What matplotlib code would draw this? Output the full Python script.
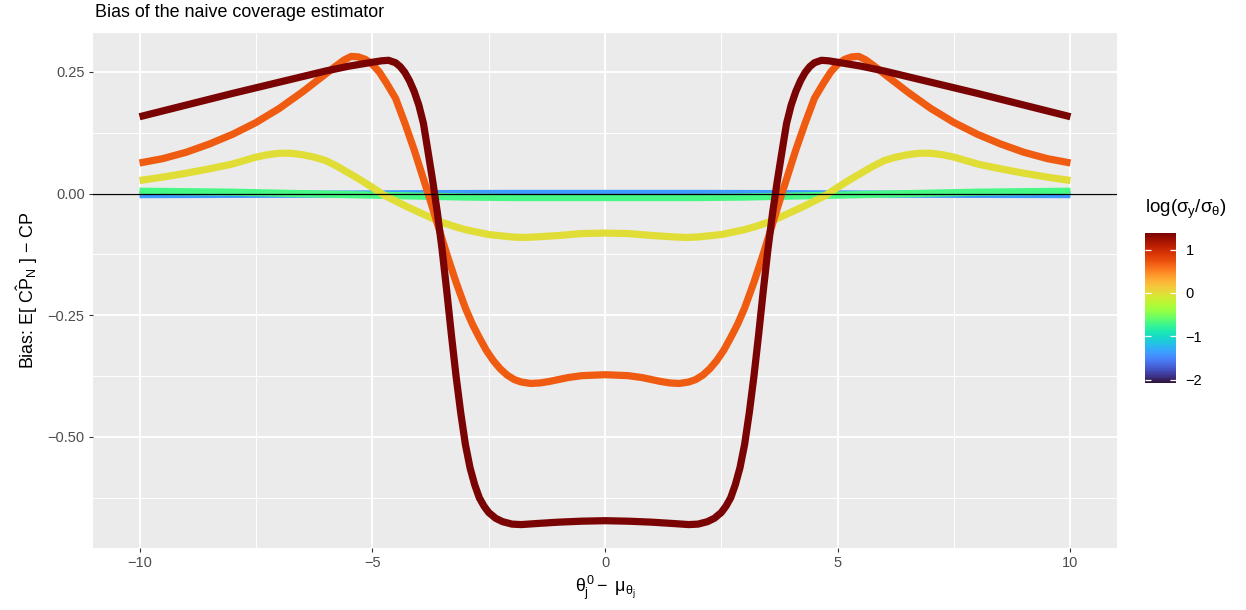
import numpy as np
import matplotlib
matplotlib.use("Agg")
import matplotlib.pyplot as plt
from matplotlib import colors, cm

plt.rcParams['font.family'] = ['Liberation Sans', 'DejaVu Sans']
plt.rcParams['mathtext.fontset'] = 'custom'
plt.rcParams['mathtext.rm'] = 'Liberation Sans'
plt.rcParams['mathtext.it'] = 'Liberation Sans'
plt.rcParams['mathtext.bf'] = 'Liberation Sans:bold'

#~~~~~~~~~~~~~~~~~~~~ DATA ~~~~~~~~~~~~~~~~~~~~
# log(sigma_y / sigma_theta) for each curve
log_ratio = [np.log(1/4), np.log(1/2), np.log(1), np.log(2), np.log(4)]
cbar_min, cbar_max = np.log(1/8), np.log(4)

x_blue = [-10, -8, -6, -4, -2, 0, 2, 4, 6, 8, 10]
y_blue = [-0.002, -0.0015, -0.001, 0.0, 0.0005, 0.0005, 0.0005, 0.0, -0.001, -0.0015, -0.002]

x_green = [-10, -9, -8, -7, -6, -5, -4, -3, -2, -1, 0, 1, 2, 3, 4, 5, 6, 7, 8, 9, 10]
y_green = [0.005, 0.004, 0.003, 0.001, -0.001, -0.003, -0.005, -0.007, -0.008, -0.008, -0.008,
           -0.008, -0.008, -0.007, -0.005, -0.003, -0.001, 0.001, 0.003, 0.004, 0.005]

x_yellow = [-10, -9.5, -9, -8.5, -8, -7.75, -7.5, -7.25, -7, -6.75, -6.5, -6.25, -6, -5.75, -5.5, -5.25,
            -5, -4.75, -4.5, -4.25, -4, -3.75, -3.5, -3.25, -3, -2.5, -2, -1.75, -1.5, -1, -0.5, 0,
            0.5, 1, 1.5, 1.75, 2, 2.5, 3, 3.25, 3.5, 3.75, 4, 4.25, 4.5, 4.75, 5,
            5.25, 5.5, 5.75, 6, 6.25, 6.5, 6.75, 7, 7.25, 7.5, 7.75, 8, 8.5, 9, 9.5, 10]
y_yellow = [0.027, 0.034, 0.042, 0.051, 0.061, 0.068, 0.075, 0.080, 0.083, 0.083, 0.080, 0.075, 0.068,
            0.056, 0.042, 0.028, 0.013, -0.003, -0.015, -0.027, -0.038, -0.049, -0.059, -0.067, -0.074,
            -0.084, -0.089, -0.090, -0.089, -0.086, -0.082, -0.081,
            -0.082, -0.086, -0.089, -0.090, -0.089, -0.084, -0.074, -0.067, -0.059, -0.049, -0.038,
            -0.027, -0.015, -0.003, 0.013, 0.028, 0.042, 0.056, 0.068, 0.075, 0.080, 0.083, 0.083,
            0.080, 0.075, 0.068, 0.061, 0.051, 0.042, 0.034, 0.027]

x_orange = [-10, -9.5, -9, -8.5, -8, -7.5, -7, -6.5, -6, -5.8, -5.6, -5.45, -5.3, -5.15, -5.0, -4.85,
            -4.7, -4.5, -4.3, -4.1, -3.95, -3.8, -3.6, -3.4, -3.2, -3.0, -2.85, -2.7, -2.55, -2.4,
            -2.25, -2.1, -1.95, -1.8, -1.6, -1.4, -1.2, -1.0, -0.8, -0.5, 0,
            0.5, 0.8, 1.0, 1.2, 1.4, 1.6, 1.8, 1.95, 2.1, 2.25, 2.4, 2.55, 2.7, 2.85, 3.0, 3.2, 3.4,
            3.6, 3.8, 3.95, 4.1, 4.3, 4.5, 4.7, 4.85, 5.0, 5.15, 5.3, 5.45, 5.6, 5.8, 6, 6.5, 7,
            7.5, 8, 8.5, 9, 9.5, 10]
y_orange = [0.063, 0.072, 0.085, 0.102, 0.122, 0.146, 0.175, 0.209, 0.246, 0.261, 0.275, 0.282, 0.281,
            0.276, 0.266, 0.250, 0.228, 0.196, 0.145, 0.090, 0.045, 0.0, -0.062, -0.124, -0.182,
            -0.235, -0.268, -0.296, -0.322, -0.343, -0.360, -0.373, -0.382, -0.387, -0.390, -0.389,
            -0.386, -0.382, -0.378, -0.374, -0.372,
            -0.374, -0.378, -0.382, -0.386, -0.389, -0.390, -0.387, -0.382, -0.373, -0.360, -0.343,
            -0.322, -0.296, -0.268, -0.235, -0.182, -0.124, -0.062, 0.0, 0.045, 0.090, 0.145, 0.196,
            0.228, 0.250, 0.266, 0.276, 0.281, 0.282, 0.275, 0.261, 0.246, 0.209, 0.175, 0.146,
            0.122, 0.102, 0.085, 0.072, 0.063]

x_red = [-10, -9, -8, -7, -6, -5.5, -5, -4.8, -4.65, -4.5, -4.4, -4.3, -4.2, -4.1, -4.0, -3.9, -3.8,
         -3.7, -3.6, -3.5, -3.4, -3.3, -3.2, -3.1, -3.0, -2.9, -2.8, -2.7, -2.6, -2.5, -2.35, -2.2,
         -2.0, -1.8, -1.5, -1.0, -0.5, 0,
         0.5, 1.0, 1.5, 1.8, 2.0, 2.2, 2.35, 2.5, 2.6, 2.7, 2.8, 2.9, 3.0, 3.1, 3.2, 3.3, 3.4, 3.5,
         3.6, 3.7, 3.8, 3.9, 4.0, 4.1, 4.2, 4.3, 4.4, 4.5, 4.65, 4.8, 5, 5.5, 6, 7, 8, 9, 10]
y_red = [0.158, 0.182, 0.206, 0.229, 0.252, 0.262, 0.270, 0.273, 0.274, 0.269, 0.261, 0.249, 0.232,
         0.210, 0.182, 0.144, 0.085, 0.025, -0.040, -0.115, -0.200, -0.290, -0.375, -0.450, -0.515,
         -0.563, -0.598, -0.625, -0.642, -0.655, -0.667, -0.674, -0.679, -0.680, -0.678, -0.675,
         -0.673, -0.672,
         -0.673, -0.675, -0.678, -0.680, -0.679, -0.674, -0.667, -0.655, -0.642, -0.625, -0.598,
         -0.563, -0.515, -0.450, -0.375, -0.290, -0.200, -0.115, -0.040, 0.025, 0.085, 0.144,
         0.182, 0.210, 0.232, 0.249, 0.261, 0.269, 0.274, 0.273, 0.270, 0.262, 0.252, 0.229,
         0.206, 0.182, 0.158]

curves = [(x_blue, y_blue), (x_green, y_green), (x_yellow, y_yellow), (x_orange, y_orange), (x_red, y_red)]

xticks = [-10, -5, 0, 5, 10]
xticklabels = ['\u221210', '\u22125', '0', '5', '10']
yticks = [-0.5, -0.25, 0.0, 0.25]
yticklabels = ['\u22120.50', '\u22120.25', '0.00', '0.25']
cbar_ticks = [-2, -1, 0, 1]
cbar_ticklabels = ['\u22122', '\u22121', '0', '1']

#~~~~~~~~~~~~~~~~~~~~ FIGURE ~~~~~~~~~~~~~~~~~~~~
W, H = 1246, 610
fig = plt.figure(figsize=(W / 100, H / 100), dpi=100)

def px_axes(left, top, right, bottom):
    return fig.add_axes([left / W, 1 - bottom / H, (right - left) / W, (bottom - top) / H])

ax = px_axes(93, 33, 1117, 548)
ax.set_facecolor('#EBEBEB')
for s in ax.spines.values():
    s.set_visible(False)

norm = colors.Normalize(vmin=cbar_min, vmax=cbar_max)
cmap = plt.get_cmap('turbo')

for (xs, ys), lr in zip(curves, log_ratio):
    ax.plot(xs, ys, color=cmap(norm(lr)), lw=5.2, solid_capstyle='butt',
            solid_joinstyle='round', zorder=3)

ax.axhline(0, color='black', lw=0.9, zorder=4)
ax.margins(x=0.05, y=0.05)

ax.set_xticks(xticks, labels=xticklabels)
ax.set_yticks(yticks, labels=yticklabels)
ax.set_xticks([-7.5, -2.5, 2.5, 7.5], minor=True)
ax.set_yticks([-0.625, -0.375, -0.125, 0.125], minor=True)
ax.grid(True, which='major', color='white', lw=1.4)
ax.grid(True, which='minor', color='white', lw=0.7)
ax.set_axisbelow(True)
ax.tick_params(which='major', length=3, width=0.8, color='#333333', labelcolor='#4D4D4D',
               labelsize=10.5, pad=3)
ax.tick_params(which='minor', length=0)

fig.text(95 / W, 1 - 17 / H, 'Bias of the naive coverage estimator', fontsize=12.9,
         ha='left', va='baseline')
fig.text(27 / W, 1 - 290.5 / H, r'Bias: E[ $\hat{\mathrm{CP}}_\mathrm{N}$ ] $-$ CP',
         rotation=90, ha='center', va='center', fontsize=12.9)
fig.text(605 / W, 1 - 588 / H, r'$\theta_\mathrm{j}^\mathrm{0}-\ \mu_{\theta_\mathrm{j}}$',
         ha='center', va='center', fontsize=12.9)

#~~~~~~~~~~~~~~~~~~~~ COLOURBAR ~~~~~~~~~~~~~~~~~~~~
cax = px_axes(1145, 233, 1176, 383)
sm = cm.ScalarMappable(norm=norm, cmap=cmap)
cb = fig.colorbar(sm, cax=cax, ticks=cbar_ticks)
cb.outline.set_visible(False)
cb.ax.set_yticklabels(cbar_ticklabels)
cb.ax.tick_params(length=0, labelsize=10.5, pad=7)
tr = cax.get_yaxis_transform()
cax.hlines(cbar_ticks, 0, 0.2, transform=tr, color='white', lw=0.9)
cax.hlines(cbar_ticks, 0.8, 1.0, transform=tr, color='white', lw=0.9)
fig.text(1145 / W, 1 - 209 / H, r'log($\sigma_\mathrm{y}/\sigma_\theta$)', ha='left', va='center',
         fontsize=13.5)

fig.savefig('out.png', dpi=100)
